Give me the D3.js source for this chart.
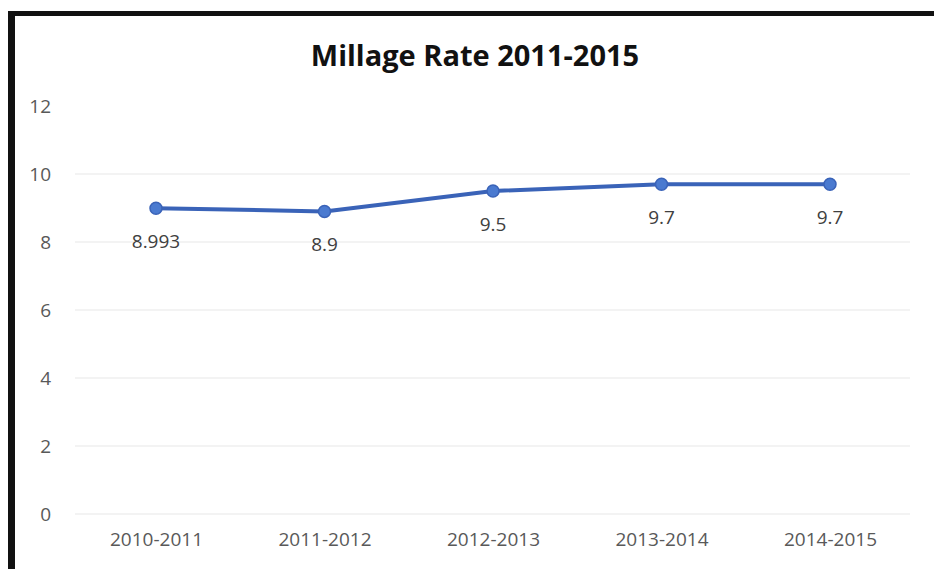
<!DOCTYPE html>
<html>
<head>
<meta charset="utf-8">
<script src="https://cdn.jsdelivr.net/npm/d3@7"></script>
<style>
  body { margin: 0; background: #fff; }
  svg { display: block; }
</style>
</head>
<body>
<div id="chart"></div>
<script>
// ---- data
var years = ["2010-2011", "2011-2012", "2012-2013", "2013-2014", "2014-2015"];
var rates = [8.993, 8.9, 9.5, 9.7, 9.7];
var rateLabels = ["8.993", "8.9", "9.5", "9.7", "9.7"];
var yTicks = [0, 2, 4, 6, 8, 10, 12];

var W = 934, H = 569;

var svg = d3.select("#chart")
    .append("svg")
      .attr("width", W)
      .attr("height", H);

// scanned-page frame (thick black border top and left)
svg.append("rect").attr("x", 8).attr("y", 11).attr("width", W - 8).attr("height", 5).attr("fill", "#111");
svg.append("rect").attr("x", 8).attr("y", 11).attr("width", 7).attr("height", H - 11).attr("fill", "#111");

var xScale = d3.scalePoint()
    .domain(years)
    .range([156, 830]);

var yScale = d3.scaleLinear()
    .domain([0, 12])
    .range([514, 106]);

// gridlines
svg.append("g")
  .selectAll("line")
  .data(yTicks.slice(0, -1))
  .join("line")
    .attr("x1", 75)
    .attr("x2", 910)
    .attr("y1", d => yScale(d))
    .attr("y2", d => yScale(d))
    .attr("stroke", "#efefef")
    .attr("stroke-width", 1.5);

var font = "'Open Sans', sans-serif";

// y axis labels
var yAxis = d3.axisLeft(yScale).tickValues(yTicks).tickSize(0).tickPadding(0);
svg.append("g")
    .attr("transform", "translate(51,0)")
    .call(yAxis)
    .call(g => g.select(".domain").remove())
    .call(g => g.selectAll("text")
        .attr("fill", "#595959")
        .attr("font-family", font)
        .attr("font-size", 19));

// x axis labels
var xAxis = d3.axisBottom(xScale).tickSize(0).tickPadding(0);
svg.append("g")
    .attr("transform", "translate(0,532)")
    .call(xAxis)
    .call(g => g.select(".domain").remove())
    .call(g => g.selectAll("text")
        .attr("fill", "#595959")
        .attr("font-family", font)
        .attr("font-size", 19));

// title
svg.append("text")
    .attr("x", 475)
    .attr("y", 66)
    .attr("text-anchor", "middle")
    .attr("font-family", font)
    .attr("font-weight", "bold")
    .attr("font-size", 29)
    .attr("fill", "#111")
    .text("Millage Rate 2011-2015");

var line = d3.line()
    .x((d, i) => xScale(years[i]))
    .y(d => yScale(d));

svg.append("path")
    .datum(rates)
    .attr("d", line)
    .attr("fill", "none")
    .attr("stroke", "#3a63b8")
    .attr("stroke-width", 4)
    .attr("stroke-linejoin", "round");

svg.append("g")
  .selectAll("circle")
  .data(rates)
  .join("circle")
    .attr("cx", (d, i) => xScale(years[i]))
    .attr("cy", d => yScale(d))
    .attr("r", 6)
    .attr("fill", "#4a7ad0")
    .attr("stroke", "#3a63b8")
    .attr("stroke-width", 1.5);

// data labels under the points
svg.append("g")
  .selectAll("text")
  .data(rates)
  .join("text")
    .attr("x", (d, i) => xScale(years[i]))
    .attr("y", d => yScale(d) + 40)
    .attr("text-anchor", "middle")
    .attr("font-family", font)
    .attr("font-size", 19)
    .attr("fill", "#404040")
    .text((d, i) => rateLabels[i]);
</script>
</body>
</html>
